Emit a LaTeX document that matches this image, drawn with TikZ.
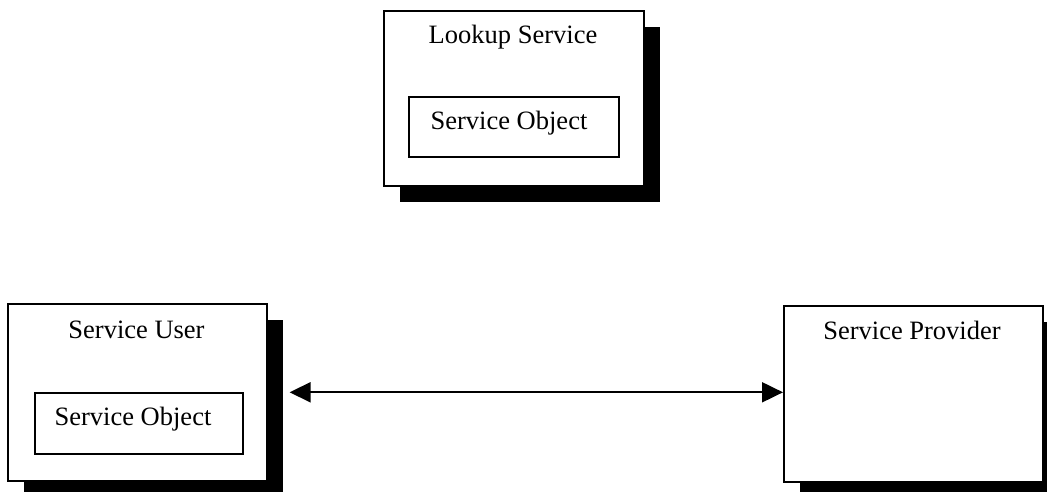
\documentclass[tikz,border=0pt]{standalone}
\usepackage{fontspec}
\setmainfont{Liberation Serif}
\usetikzlibrary{shadows,arrows.meta}
\begin{document}
\begin{tikzpicture}[x=1pt,y=-1pt,
  outerbox/.style={draw, line width=1.6pt, fill=white, inner sep=0pt, anchor=north west,
    drop shadow={shadow xshift=16pt, shadow yshift=-16pt, fill=black, opacity=1}},
  innerbox/.style={draw, line width=2pt, fill=white, inner sep=0pt, anchor=north west},
  lbl/.style={font=\fontsize{26.5}{30}\selectfont, anchor=base, inner sep=0pt},
  objlbl/.style={font=\fontsize{26.5}{30}\selectfont, anchor=base, inner sep=0pt, text=black, line width=0.3pt},
  arr/.style={line width=2pt, {Triangle[length=21pt,width=20pt]}-{Triangle[length=21pt,width=20pt]}}]
\useasboundingbox (0,0) rectangle (1047,492);
% Lookup service
\node[outerbox, minimum width=260pt, minimum height=175pt] (lookup) at (383,10) {};
\node[innerbox, minimum width=210pt, minimum height=60pt] (lookupobj) at (408,96) {};
\node[lbl] (lookuplbl) at (513,44) {Lookup Service};
\node[objlbl] (lookupobjlbl) at (509,130) {Service Object};
% Service user
\node[outerbox, minimum width=259pt, minimum height=177pt] (user) at (7,303) {};
\node[innerbox, minimum width=208pt, minimum height=61pt] (userobj) at (34,392) {};
\node[lbl] (userlbl) at (136.5,338) {Service User};
\node[objlbl] (userobjlbl) at (133,425) {Service Object};
% Service provider
\node[outerbox, minimum width=259pt, minimum height=176pt] (provider) at (783,305) {};
\node[lbl] (providerlbl) at (912,339) {Service Provider};
% connector
\draw[arr] ([xshift=22pt]user.east) -- (user.east -| provider.west);
\end{tikzpicture}
\end{document}
